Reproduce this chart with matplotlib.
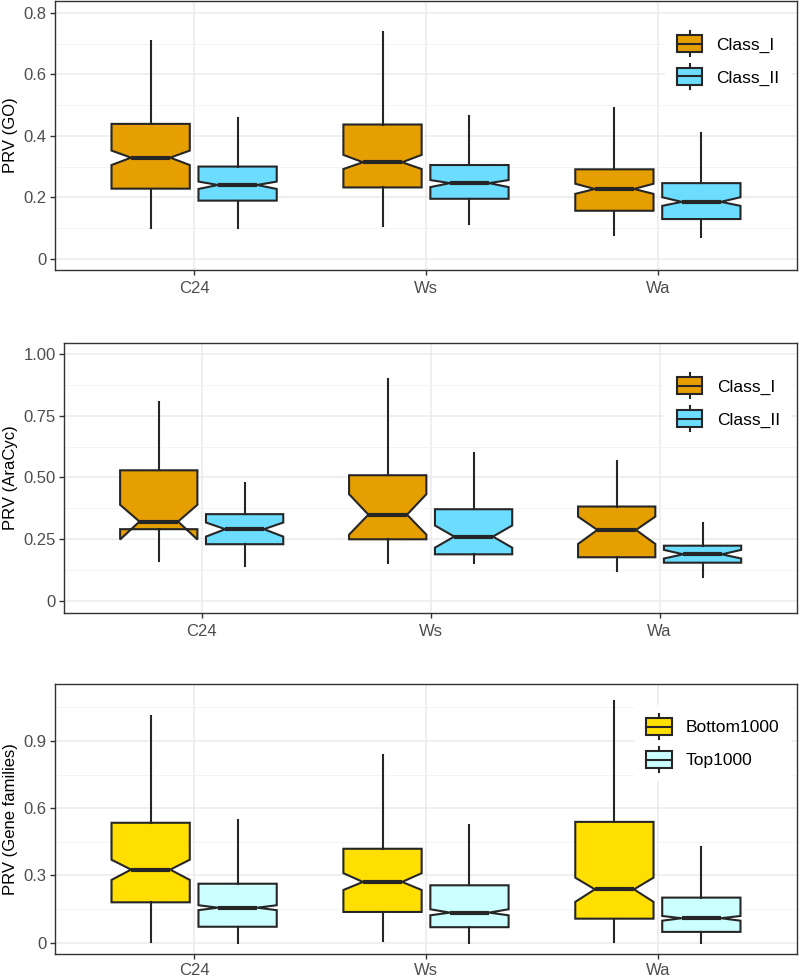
import matplotlib
matplotlib.use("Agg")
import matplotlib.pyplot as plt
from matplotlib.patches import Rectangle
from matplotlib.lines import Line2D

plt.rcParams['font.family'] = ['Liberation Sans', 'DejaVu Sans']

categories = ["C24", "Ws", "Wa"]

# ---- Panel 1: PRV (GO) ----
go_groups = ["Class_I", "Class_II"]
go_colors = ["#E69F00", "#6CDCFF"]
go_whislo = [[0.100, 0.105, 0.078], [0.100, 0.113, 0.070]]
go_q1     = [[0.228, 0.232, 0.156], [0.189, 0.195, 0.129]]
go_cilo   = [[0.305, 0.292, 0.211], [0.227, 0.233, 0.172]]
go_med    = [[0.329, 0.314, 0.227], [0.240, 0.246, 0.185]]
go_cihi   = [[0.352, 0.338, 0.244], [0.251, 0.256, 0.200]]
go_q3     = [[0.439, 0.437, 0.291], [0.300, 0.305, 0.246]]
go_whishi = [[0.708, 0.740, 0.492], [0.459, 0.466, 0.410]]

# ---- Panel 2: PRV (AraCyc) ----
ara_groups = ["Class_I", "Class_II"]
ara_colors = ["#E69F00", "#6CDCFF"]
ara_whislo = [[0.162, 0.152, 0.122], [0.141, 0.152, 0.097]]
ara_q1     = [[0.290, 0.249, 0.176], [0.229, 0.188, 0.154]]
ara_cilo   = [[0.248, 0.268, 0.230], [0.260, 0.215, 0.171]]
ara_med    = [[0.321, 0.349, 0.287], [0.290, 0.260, 0.188]]
ara_cihi   = [[0.389, 0.432, 0.341], [0.317, 0.305, 0.206]]
ara_q3     = [[0.529, 0.509, 0.382], [0.351, 0.371, 0.223]]
ara_whishi = [[0.808, 0.899, 0.565], [0.478, 0.598, 0.314]]

# ---- Panel 3: PRV (Gene families) ----
gf_groups = ["Bottom1000", "Top1000"]
gf_colors = ["#FFDF00", "#CCFFFF"]
gf_whislo = [[0.004, 0.009, 0.003], [0.000, 0.000, 0.000]]
gf_q1     = [[0.180, 0.137, 0.107], [0.071, 0.069, 0.048]]
gf_cilo   = [[0.280, 0.235, 0.182], [0.145, 0.122, 0.098]]
gf_med    = [[0.326, 0.271, 0.238], [0.156, 0.134, 0.109]]
gf_cihi   = [[0.370, 0.310, 0.290], [0.167, 0.149, 0.119]]
gf_q3     = [[0.535, 0.419, 0.539], [0.263, 0.256, 0.201]]
gf_whishi = [[1.013, 0.836, 1.080], [0.546, 0.524, 0.426]]

EDGE = "#262626"
W, H = 800, 977
fig = plt.figure(figsize=(W / 100, H / 100), dpi=100)


def px_axes(left, top, right, bottom):
    return fig.add_axes([left / W, 1 - bottom / H, (right - left) / W, (bottom - top) / H])


def draw_panel(ax, groups, colors, whislo, q1, cilo, med, cihi, q3, whishi,
               ylim, major, minor, ticklabels, ylabel, label_x_px, axleft_px, axwidth_px,
               legend_px, xpad):
    ax.set_xlim(0.4, 3.6)
    ax.set_ylim(*ylim)
    dodge = 0.1875
    width = 0.3375
    for g in range(len(groups)):
        stats = []
        for i in range(len(categories)):
            stats.append(dict(med=med[g][i], q1=q1[g][i], q3=q3[g][i],
                              whislo=whislo[g][i], whishi=whishi[g][i],
                              cilo=cilo[g][i], cihi=cihi[g][i], fliers=[]))
        offset = -dodge if g == 0 else dodge
        pos = [i + 1 + offset for i in range(len(categories))]
        ax.bxp(stats, positions=pos, widths=width, shownotches=True, showcaps=False,
               showfliers=False, patch_artist=True, manage_ticks=False,
               boxprops=dict(facecolor=colors[g], edgecolor=EDGE, linewidth=1.5),
               whiskerprops=dict(color=EDGE, linewidth=1.5),
               medianprops=dict(color=EDGE, linewidth=3.0, solid_capstyle='butt'),
               zorder=3)
    ax.set_xticks(range(1, len(categories) + 1))
    ax.set_xticklabels(categories)
    ax.set_yticks(major)
    ax.set_yticklabels(ticklabels)
    ax.set_yticks(minor, minor=True)
    ax.grid(True, which='major', color='#EBEBEB', linewidth=1.1, zorder=0)
    ax.grid(True, which='minor', axis='y', color='#F2F2F2', linewidth=0.6, zorder=0)
    ax.set_axisbelow(True)
    ax.tick_params(axis='both', which='major', length=3.8, width=1.0, color='#333333',
                   labelsize=12, labelcolor='#4D4D4D', pad=2.5)
    ax.tick_params(axis='x', which='major', pad=xpad)
    ax.tick_params(axis='both', which='minor', length=0)
    for s in ax.spines.values():
        s.set_color('#333333')
        s.set_linewidth(1.0)
    ax.set_ylabel(ylabel, fontsize=12, color='black')
    ax.yaxis.set_label_coords((label_x_px - axleft_px) / axwidth_px, 0.5)

    # legend (boxplot-glyph keys)
    lx, ly, kw, kh, pitch, tx = legend_px
    fig.add_artist(Rectangle(((lx - 12) / W, 1 - (ly + pitch + kh + 13) / H),
                             (W - 8 - (lx - 12)) / W, (pitch + kh + 26) / H,
                             transform=fig.transFigure, facecolor='white',
                             edgecolor='none', zorder=5))
    for g in range(len(groups)):
        top = ly + g * pitch
        fig.add_artist(Line2D([(lx + kw / 2) / W] * 2,
                              [1 - (top - 4) / H, 1 - (top + kh + 4) / H],
                              transform=fig.transFigure, color=EDGE, lw=1.5, zorder=6))
        fig.add_artist(Rectangle((lx / W, 1 - (top + kh) / H), kw / W, kh / H,
                                 transform=fig.transFigure, facecolor=colors[g],
                                 edgecolor=EDGE, lw=1.5, zorder=7))
        fig.add_artist(Line2D([lx / W, (lx + kw) / W], [1 - (top + kh / 2) / H] * 2,
                              transform=fig.transFigure, color=EDGE, lw=1.5, zorder=8))
        fig.text(tx / W, 1 - (top + kh / 2) / H, groups[g], fontsize=12.5,
                 ha='left', va='center_baseline', color='black', zorder=9)


ax1 = px_axes(55, 0.5, 797, 270)
draw_panel(ax1, go_groups, go_colors, go_whislo, go_q1, go_cilo, go_med, go_cihi, go_q3, go_whishi,
           (-0.037, 0.841), [0, 0.2, 0.4, 0.6, 0.8], [0.1, 0.3, 0.5, 0.7],
           ["0", "0.2", "0.4", "0.6", "0.8"], "PRV (GO)", 18, 55, 742,
           (677, 35, 25, 17, 33, 716), 4.0)

ax2 = px_axes(64.3, 342.7, 797, 612.7)
draw_panel(ax2, ara_groups, ara_colors, ara_whislo, ara_q1, ara_cilo, ara_med, ara_cihi, ara_q3, ara_whishi,
           (-0.049, 1.047), [0, 0.25, 0.5, 0.75, 1.0], [0.125, 0.375, 0.625, 0.875],
           ["0", "0.25", "0.50", "0.75", "1.00"], "PRV (AraCyc)", 18, 64.3, 732.7,
           (677, 377, 25, 17, 33, 717), 4.0)

ax3 = px_axes(55, 684.3, 797, 954.3)
draw_panel(ax3, gf_groups, gf_colors, gf_whislo, gf_q1, gf_cilo, gf_med, gf_cihi, gf_q3, gf_whishi,
           (-0.052, 1.153), [0, 0.3, 0.6, 0.9], [0.15, 0.45, 0.75, 1.05],
           ["0", "0.3", "0.6", "0.9"], "PRV (Gene families)", 18, 55, 742,
           (646, 718, 26, 17, 33, 686), 2.5)

fig.savefig("out.png", dpi=100)
